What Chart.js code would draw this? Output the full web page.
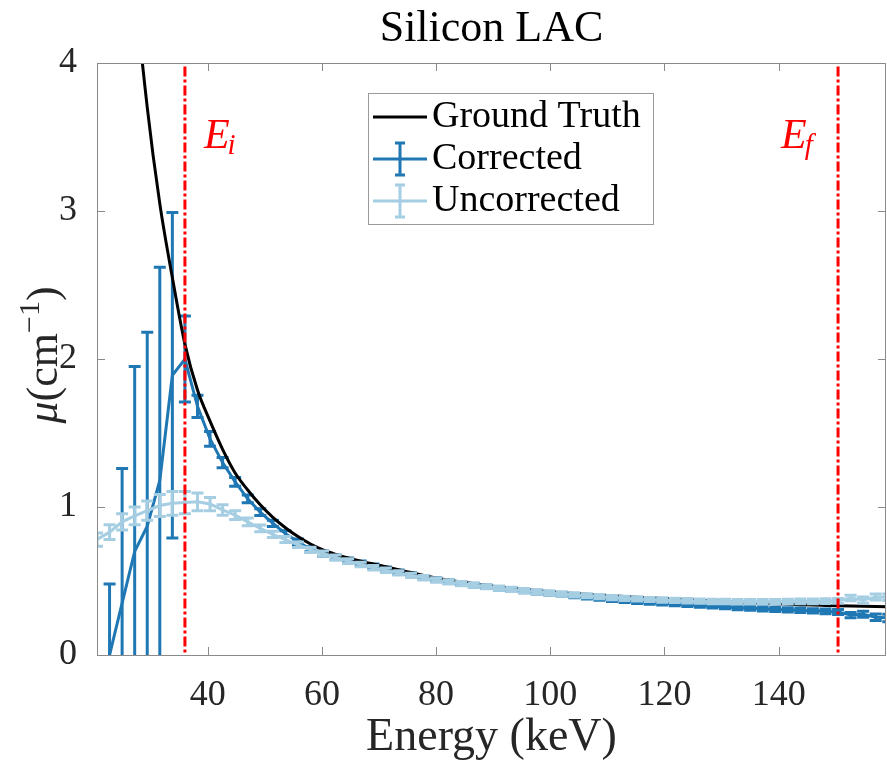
<!DOCTYPE html>
<html lang="en">
<head>
  <meta charset="UTF-8" />
  <title>Silicon LAC</title>
  <script src="https://cdn.jsdelivr.net/npm/chart.js"></script>
  <style>
    * { margin: 0; padding: 0; box-sizing: border-box; }
    body { background: #fff; width: 887px; height: 760px; overflow: hidden; }
    .chart-container { position: relative; width: 887px; height: 760px; }
  </style>
</head>
<body>
  <div class="chart-container">
    <canvas id="lacChart"></canvas>
  </div>

  <script>
    // Energy bins (keV)
    const energies = [
      20.6, 22.8, 25.0, 27.2, 29.4, 31.6, 33.8, 36.0, 38.2, 40.4,
      42.6, 44.8, 47.0, 49.2, 51.4, 53.6, 55.8, 58.0, 60.2, 62.4,
      64.6, 66.8, 69.0, 71.2, 73.4, 75.6, 77.8, 80.0, 82.2, 84.4,
      86.6, 88.8, 91.0, 93.2, 95.4, 97.6, 99.8, 102.0, 104.2, 106.4,
      108.6, 110.8, 113.0, 115.2, 117.4, 119.6, 121.8, 124.0, 126.2, 128.4,
      130.6, 132.8, 135.0, 137.2, 139.4, 141.6, 143.8, 146.0, 148.2, 150.4,
      152.6, 154.8, 157.0, 159.2
    ];

    const groundTruth = [
      10.5, 7.6, 5.8, 4.55, 3.7, 3.05, 2.55, 2.10, 1.79, 1.58,
      1.39, 1.23, 1.115, 1.015, 0.93, 0.86, 0.80, 0.75, 0.71, 0.68,
      0.655, 0.633, 0.615, 0.596, 0.576, 0.557, 0.538, 0.520, 0.506, 0.493,
      0.481, 0.470, 0.460, 0.451, 0.443, 0.435, 0.428, 0.421, 0.415, 0.410,
      0.405, 0.400, 0.395, 0.390, 0.386, 0.382, 0.378, 0.374, 0.370, 0.366,
      0.362, 0.358, 0.354, 0.350, 0.346, 0.343, 0.340, 0.337, 0.335, 0.333,
      0.331, 0.329, 0.327, 0.325
    ];

    const corrected = [
      -0.8, 0.0, 0.35, 0.70, 0.87, 1.18, 1.89, 2.00, 1.68, 1.46,
      1.30, 1.17, 1.055, 0.965, 0.89, 0.82, 0.765, 0.715, 0.685, 0.66,
      0.64, 0.62, 0.60, 0.58, 0.56, 0.542, 0.525, 0.51, 0.496, 0.484,
      0.472, 0.461, 0.451, 0.442, 0.433, 0.425, 0.417, 0.41, 0.398, 0.39,
      0.382, 0.374, 0.366, 0.36, 0.355, 0.35, 0.345, 0.34, 0.335, 0.33,
      0.325, 0.32, 0.316, 0.312, 0.308, 0.305, 0.302, 0.298, 0.295, 0.29,
      0.27, 0.275, 0.255, 0.25
    ];

    const correctedErr = [
      0.5, 0.48, 0.91, 1.25, 1.31, 1.44, 1.10, 0.29, 0.075, 0.05,
      0.035, 0.03, 0.026, 0.023, 0.021, 0.02, 0.019, 0.018, 0.017, 0.016,
      0.016, 0.015, 0.015, 0.014, 0.014, 0.014, 0.013, 0.013, 0.013, 0.013,
      0.012, 0.012, 0.012, 0.012, 0.012, 0.012, 0.012, 0.012, 0.012, 0.012,
      0.012, 0.012, 0.012, 0.012, 0.012, 0.012, 0.013, 0.013, 0.013, 0.013,
      0.013, 0.014, 0.014, 0.014, 0.014, 0.015, 0.015, 0.015, 0.016, 0.017,
      0.018, 0.02, 0.022, 0.025
    ];

    const uncorrected = [
      0.78, 0.83, 0.90, 0.94, 0.975, 1.01, 1.025, 1.03, 1.035, 1.02,
      0.98, 0.945, 0.90, 0.855, 0.815, 0.78, 0.745, 0.71, 0.685, 0.66,
      0.635, 0.612, 0.59, 0.572, 0.555, 0.538, 0.522, 0.507, 0.494, 0.482,
      0.471, 0.461, 0.452, 0.443, 0.435, 0.427, 0.42, 0.413, 0.406, 0.40,
      0.394, 0.388, 0.383, 0.379, 0.375, 0.372, 0.369, 0.366, 0.364, 0.362,
      0.361, 0.36, 0.36, 0.36, 0.36, 0.361, 0.362, 0.363, 0.364, 0.366,
      0.385, 0.372, 0.392, 0.39
    ];

    const uncorrectedErr = [
      0.045, 0.05, 0.055, 0.06, 0.065, 0.075, 0.08, 0.075, 0.06, 0.045,
      0.035, 0.03, 0.026, 0.023, 0.021, 0.02, 0.019, 0.018, 0.017, 0.016,
      0.016, 0.015, 0.015, 0.015, 0.015, 0.015, 0.015, 0.015, 0.015, 0.014,
      0.014, 0.014, 0.014, 0.014, 0.014, 0.014, 0.014, 0.014, 0.014, 0.014,
      0.014, 0.014, 0.014, 0.014, 0.014, 0.015, 0.015, 0.015, 0.015, 0.015,
      0.015, 0.015, 0.015, 0.015, 0.015, 0.016, 0.016, 0.016, 0.016, 0.016,
      0.018, 0.02, 0.02, 0.022
    ];

    const xTicks = [40, 60, 80, 100, 120, 140];
    const yTicks = [0, 1, 2, 3, 4];
    const energyInitial = 36.0;
    const energyFinal = 150.4;

    const SERIF = '"Liberation Serif", "DejaVu Serif", serif';
    const DARK_BLUE = '#1f78b4';
    const LIGHT_BLUE = '#a6cee3';
    const AXIS_GRAY = '#8a8a8a';
    const TEXT_COLOR = '#262626';

    const toPoints = (ys) => energies.map((e, i) => ({ x: e, y: ys[i] }));

    // draws error bars right after their own dataset, so layering follows the lines
    const errorBarPlugin = {
      id: 'errorBars',
      afterDatasetDraw(chart, args) {
        const ds = chart.data.datasets[args.index];
        if (!ds.errors) return;
        const { ctx, chartArea } = chart;
        const xs = chart.scales.x, ys = chart.scales.y;
        ctx.save();
        ctx.beginPath();
        ctx.rect(chartArea.left, chartArea.top, chartArea.right - chartArea.left, chartArea.bottom - chartArea.top);
        ctx.clip();
        ctx.strokeStyle = ds.borderColor;
        ctx.lineWidth = 3;
        ctx.lineCap = 'butt';
        const cap = 6;
        ds.data.forEach((p, i) => {
          const px = xs.getPixelForValue(p.x);
          const top = ys.getPixelForValue(p.y + ds.errors[i]);
          const bot = ys.getPixelForValue(p.y - ds.errors[i]);
          ctx.beginPath();
          ctx.moveTo(px, top); ctx.lineTo(px, bot);
          ctx.moveTo(px - cap, top); ctx.lineTo(px + cap, top);
          ctx.moveTo(px - cap, bot); ctx.lineTo(px + cap, bot);
          ctx.stroke();
        });
        ctx.restore();
      }
    };

    // box, inward ticks, titles, marker labels and legend
    const decorPlugin = {
      id: 'decor',
      afterDraw(chart) {
        const { ctx, chartArea: a } = chart;
        const xs = chart.scales.x, ys = chart.scales.y;
        ctx.save();

        ctx.strokeStyle = AXIS_GRAY;
        ctx.lineWidth = 1;
        ctx.strokeRect(Math.round(a.left) + 0.5, Math.round(a.top) + 0.5,
          Math.round(a.right - a.left) - 1, Math.round(a.bottom - a.top));
        const tl = 8;
        ctx.beginPath();
        xTicks.forEach(v => {
          const px = Math.round(xs.getPixelForValue(v)) + 0.5;
          ctx.moveTo(px, a.bottom); ctx.lineTo(px, a.bottom - tl);
          ctx.moveTo(px, a.top); ctx.lineTo(px, a.top + tl);
        });
        yTicks.forEach(v => {
          const py = Math.round(ys.getPixelForValue(v)) + 0.5;
          ctx.moveTo(a.left, py); ctx.lineTo(a.left + tl, py);
          ctx.moveTo(a.right, py); ctx.lineTo(a.right - tl, py);
        });
        ctx.stroke();

        ctx.fillStyle = '#000';
        ctx.textAlign = 'center';
        ctx.textBaseline = 'middle';
        ctx.font = '44px ' + SERIF;
        ctx.fillText('Silicon LAC', (a.left + a.right) / 2, 29);

        ctx.fillStyle = TEXT_COLOR;
        ctx.font = '46px ' + SERIF;
        ctx.fillText('Energy (keV)', (a.left + a.right) / 2, 738);

        // y axis label: mu(cm^-1)
        ctx.save();
        ctx.translate(45, (a.top + a.bottom) / 2 - 4);
        ctx.rotate(-Math.PI / 2);
        ctx.textAlign = 'left';
        ctx.textBaseline = 'alphabetic';
        const parts = [
          { t: 'μ', f: 'italic 44px ' + SERIF, dy: 0 },
          { t: '(cm', f: '44px ' + SERIF, dy: 0 },
          { t: '−1', f: '30px ' + SERIF, dy: -18 },
          { t: ')', f: '44px ' + SERIF, dy: 0 }
        ];
        let total = 0;
        parts.forEach(p => { ctx.font = p.f; p.w = ctx.measureText(p.t).width; total += p.w; });
        let cx = -total / 2;
        parts.forEach(p => { ctx.font = p.f; ctx.fillText(p.t, cx, 12 + p.dy); cx += p.w; });
        ctx.restore();

        // E_i / E_f labels
        ctx.fillStyle = '#ff0000';
        ctx.textAlign = 'left';
        ctx.textBaseline = 'alphabetic';
        const markLabel = (x, sub) => {
          ctx.font = 'italic 42px ' + SERIF;
          ctx.fillText('E', x, 148);
          const w = ctx.measureText('E').width;
          ctx.font = 'italic 29px ' + SERIF;
          ctx.fillText(sub, x + w - 2, 154);
        };
        markLabel(xs.getPixelForValue(energyInitial) + 19, 'i');
        markLabel(xs.getPixelForValue(energyFinal) - 57, 'f');

        // legend
        const lx = 368.5, ly = 93.5, lw = 285, lh = 131;
        ctx.fillStyle = '#fff';
        ctx.fillRect(lx, ly, lw, lh);
        ctx.strokeStyle = '#9a9a9a';
        ctx.lineWidth = 1;
        ctx.strokeRect(lx, ly, lw, lh);
        const entries = chart.data.datasets.filter(d => d.inLegend).sort((p, q) => p.legendRank - q.legendRank);
        entries.forEach((d, i) => {
          const y = 117 + i * 42;
          ctx.strokeStyle = d.borderColor;
          ctx.lineWidth = 3;
          ctx.beginPath();
          ctx.moveTo(373, y); ctx.lineTo(427, y);
          if (d.errors) {
            ctx.moveTo(400, y - 16); ctx.lineTo(400, y + 16);
            ctx.moveTo(395, y - 16); ctx.lineTo(405, y - 16);
            ctx.moveTo(395, y + 16); ctx.lineTo(405, y + 16);
          }
          ctx.stroke();
          ctx.fillStyle = '#000';
          ctx.font = '38px ' + SERIF;
          ctx.textBaseline = 'middle';
          ctx.fillText(d.label, 432, y);
        });

        ctx.restore();
      }
    };

    const markerLine = (e) => ({
      label: 'marker',
      data: [{ x: e, y: -0.2 }, { x: e, y: 4.2 }],
      borderColor: '#ff0000',
      borderWidth: 3,
      borderDash: [10, 3, 3, 3],
      pointRadius: 0,
      order: 0
    });

    new Chart(document.getElementById('lacChart'), {
      type: 'line',
      data: {
        datasets: [
          {
            label: 'Ground Truth',
            data: toPoints(groundTruth),
            borderColor: '#000',
            borderWidth: 3,
            pointRadius: 0,
            cubicInterpolationMode: 'monotone',
            inLegend: true, legendRank: 0,
            order: 2
          },
          {
            label: 'Corrected',
            data: toPoints(corrected),
            errors: correctedErr,
            borderColor: DARK_BLUE,
            borderWidth: 3,
            pointRadius: 0,
            inLegend: true, legendRank: 1,
            order: 3
          },
          {
            label: 'Uncorrected',
            data: toPoints(uncorrected),
            errors: uncorrectedErr,
            borderColor: LIGHT_BLUE,
            borderWidth: 3,
            pointRadius: 0,
            inLegend: true, legendRank: 2,
            order: 1
          },
          markerLine(energyInitial),
          markerLine(energyFinal)
        ]
      },
      options: {
        responsive: true,
        maintainAspectRatio: false,
        animation: false,
        layout: { padding: { top: 63, right: 1, left: 0, bottom: 0 } },
        plugins: {
          legend: { display: false },
          tooltip: { enabled: false },
          title: { display: false }
        },
        scales: {
          x: {
            type: 'linear',
            min: 20.6,
            max: 158.8,
            grid: { display: false },
            border: { display: false },
            afterBuildTicks: (s) => { s.ticks = xTicks.map(v => ({ value: v })); },
            afterFit: (s) => { s.height = 105; },
            ticks: {
              padding: 11,
              maxRotation: 0,
              autoSkip: false,
              color: TEXT_COLOR,
              font: { family: SERIF, size: 36 }
            }
          },
          y: {
            min: 0,
            max: 4,
            grid: { display: false },
            border: { display: false },
            afterBuildTicks: (s) => { s.ticks = yTicks.map(v => ({ value: v })); },
            afterFit: (s) => { s.width = 97; },
            ticks: {
              padding: 12,
              color: TEXT_COLOR,
              font: { family: SERIF, size: 36 }
            }
          }
        }
      },
      plugins: [errorBarPlugin, decorPlugin]
    });
  </script>
</body>
</html>
